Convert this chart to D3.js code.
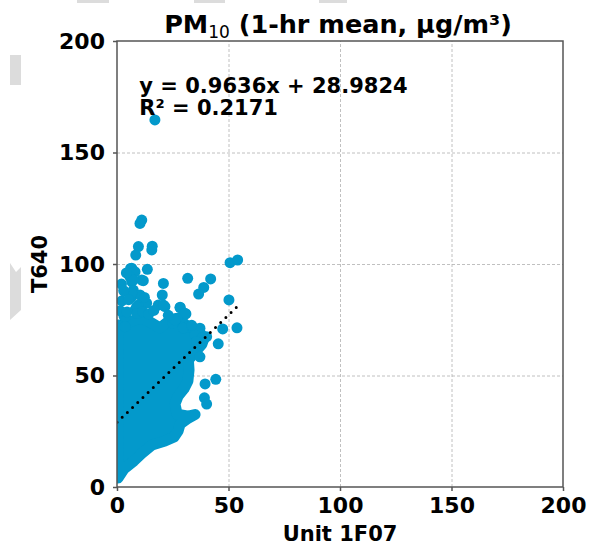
<!DOCTYPE html>
<html>
<head>
<meta charset="utf-8">
<script src="https://cdn.jsdelivr.net/npm/d3@7"></script>
<style>
  body { margin: 0; background: #fff; }
  text { font-family: "DejaVu Sans", sans-serif; font-weight: bold; fill: #000; }
</style>
</head>
<body>
<div id="chart"></div>
<script>
  var xTicks = [0, 50, 100, 150, 200],
    yTicks = [0, 50, 100, 150, 200],
    xDomain = [0, 200],
    yDomain = [0, 200];

  // outline of the overplotted core (centres of the outermost points)
  var coreX = [0.45, 3.1, 7.6, 10.8, 15.7, 21.5, 25.6, 27.4, 28.3, 31.4, 35.0, 32.0, 27.0, 26.0, 27.4, 30.0, 31.8, 32.3, 32.0, 35.0, 38.1, 39.0, 36.3, 30.9, 27.4, 23.8, 19.3, 14.8, 10.3, 5.8, 2.2, 0.45],
    coreY = [4.0, 8.1, 11.7, 14.8, 18.8, 20.6, 22.4, 25.1, 28.3, 30.5, 32.5, 31.8, 32.6, 37.2, 40.8, 44.0, 47.5, 52.5, 57.0, 60.5, 64.1, 66.8, 70.4, 72.6, 75.8, 74.9, 71.3, 74.0, 75.8, 74.0, 72.6, 72.6];

  // single points standing out of the core
  var pointX = [17.0, 11.1, 10.3, 15.8, 15.6, 9.6, 8.4, 50.7, 54.1, 31.7, 42.0, 38.9, 36.6, 50.2, 53.8, 47.4, 37.2, 20.8, 20.3, 13.6, 6.1, 11.8, 28.3, 30.9, 3.1, 2.8, 21.5, 45.4, 44.3, 39.5, 39.2, 40.2, 37.2, 37.2, 6.6, 8.1, 5.8, 6.6, 11.1, 7.3, 6.6, 10.3, 13.3, 9.6, 8.1, 18.5, 28.3, 30.5, 26.8, 25.2, 31.3, 35.0, 38.7, 40.2, 38.0, 35.7, 29.7, 26.0, 3.6,
      7.3, 6.6, 8.8, 3.6, 20.8, 1.5, 2.2, 3.0, 4.5, 5.2, 9.0, 11.5, 14.2, 16.5, 12.3, 23.0, 33.5, 2.0, 4.2],
    pointY = [164.6, 119.7, 118.2, 108.0, 106.3, 107.8, 104.0, 100.6, 101.8, 93.6, 93.3, 89.5, 86.5, 83.9, 71.4, 70.9, 71.2, 91.3, 86.1, 97.6, 98.0, 92.5, 80.4, 77.6, 76.7, 72.6, 80.9, 64.2, 48.3, 46.2, 40.0, 37.2, 63.4, 58.4, 98.1, 96.5, 94.3, 92.1, 92.8, 88.3, 85.3, 86.1, 82.4, 81.6, 79.4, 81.6, 80.6, 77.9, 75.6, 73.4, 71.9, 68.2, 65.9, 67.4, 66.7, 65.2, 71.2, 74.9, 76.4,
      92.8, 86.9, 80.9, 71.9, 81.6, 79.0, 83.5, 88.0, 78.5, 84.0, 77.8, 78.6, 77.5, 79.2, 85.0, 77.0, 72.5, 91.0, 96.0];

  var fitSlope = 0.9636,
    fitIntercept = 28.9824,
    fitRange = [0, 54.1],
    fitText = ['y = 0.9636x + 28.9824', 'R\u00b2 = 0.2171'];

  var width = 589,
    height = 545,
    padL = 117, padR = 563, padT = 41, padB = 487,
    dotR = 5.5,
    dotColor = '#0399cb';

  var x = d3.scaleLinear().domain(xDomain).range([padL, padR]);
  var y = d3.scaleLinear().domain(yDomain).range([padB, padT]);

  var svg = d3.select('#chart')
    .append('svg')
    .attr('width', width)
    .attr('height', height);

  // grey bits at the page edges
  svg.selectAll('rect.edge')
    .data([[77, 0, 32, 3], [194, 0, 31, 3], [319, 0, 28, 3], [10, 55, 11, 30]])
    .enter().append('rect')
    .attr('class', 'edge')
    .attr('x', function(d){ return d[0]; })
    .attr('y', function(d){ return d[1]; })
    .attr('width', function(d){ return d[2]; })
    .attr('height', function(d){ return d[3]; })
    .style('fill', '#dcdcdc');
  svg.append('path')
    .attr('d', 'M 10 263 L 16 272 L 21 267 L 21 310 L 10 320 Z')
    .style('fill', '#dcdcdc');

  svg.append('clipPath')
    .attr('id', 'plotArea')
    .append('rect')
    .attr('x', padL)
    .attr('y', padT)
    .attr('width', padR - padL)
    .attr('height', padB - padT);

  // grid
  svg.append('g')
    .attr('transform', 'translate(0,' + padB + ')')
    .call(d3.axisBottom(x).tickValues(xTicks.slice(1, -1)).tickSize(-(padB - padT)).tickFormat(''))
    .call(function(g){ g.select('.domain').remove(); })
    .selectAll('line')
    .attr('stroke', '#b0b0b0')
    .attr('stroke-width', 0.8)
    .attr('stroke-dasharray', '3,2');

  svg.append('g')
    .attr('transform', 'translate(' + padL + ',0)')
    .call(d3.axisLeft(y).tickValues(yTicks.slice(1, -1)).tickSize(-(padR - padL)).tickFormat(''))
    .call(function(g){ g.select('.domain').remove(); })
    .selectAll('line')
    .attr('stroke', '#b0b0b0')
    .attr('stroke-width', 0.8)
    .attr('stroke-dasharray', '3,2');

  var plot = svg.append('g').attr('clip-path', 'url(#plotArea)');

  var corePts = coreX.map(function(v, i){ return [v, coreY[i]]; });
  plot.append('path')
    .datum(corePts)
    .attr('d', d3.line().x(function(d){ return x(d[0]); }).y(function(d){ return y(d[1]); }).curve(d3.curveLinearClosed))
    .style('fill', dotColor)
    .style('stroke', dotColor)
    .style('stroke-width', dotR * 2)
    .style('stroke-linejoin', 'round');

  plot.selectAll('circle')
    .data(pointX.map(function(v, i){ return [v, pointY[i]]; }))
    .enter().append('circle')
    .attr('cx', function(d){ return x(d[0]); })
    .attr('cy', function(d){ return y(d[1]); })
    .attr('r', dotR)
    .style('fill', dotColor);

  // trend line
  plot.append('path')
    .datum(fitRange.map(function(v){ return [v, fitSlope * v + fitIntercept]; }))
    .attr('d', d3.line().x(function(d){ return x(d[0]); }).y(function(d){ return y(d[1]); }))
    .style('fill', 'none')
    .style('stroke', '#000')
    .style('stroke-width', 3)
    .style('stroke-linecap', 'round')
    .style('stroke-dasharray', '0,7.2');

  // axes
  var xAxis = svg.append('g')
    .attr('transform', 'translate(0,' + padB + ')')
    .call(d3.axisBottom(x).tickValues(xTicks).tickSize(4).tickPadding(6));
  var yAxis = svg.append('g')
    .attr('transform', 'translate(' + padL + ',0)')
    .call(d3.axisLeft(y).tickValues(yTicks).tickSize(4).tickPadding(8));

  [xAxis, yAxis].forEach(function(a){
    a.select('.domain').remove();
    a.selectAll('line').attr('stroke', '#555').attr('stroke-width', 1.5);
    a.selectAll('text')
      .style('font-family', '"DejaVu Sans", sans-serif')
      .style('font-weight', 'bold')
      .style('font-size', '22px')
      .attr('fill', '#000');
  });

  svg.append('rect')
    .attr('x', padL)
    .attr('y', padT)
    .attr('width', padR - padL)
    .attr('height', padB - padT)
    .style('fill', 'none')
    .style('stroke', '#555')
    .style('stroke-width', 1.5);

  // labels
  svg.append('text')
    .attr('x', (padL + padR) / 2)
    .attr('y', 541)
    .attr('text-anchor', 'middle')
    .style('font-size', '21px')
    .text('Unit 1F07');

  svg.append('text')
    .attr('transform', 'translate(47,264) rotate(-90)')
    .attr('text-anchor', 'middle')
    .style('font-size', '21px')
    .text('T640');

  var title = svg.append('text')
    .attr('x', 338)
    .attr('y', 33)
    .attr('text-anchor', 'middle')
    .style('font-size', '25.5px');
  title.append('tspan').text('PM');
  title.append('tspan').attr('dy', 5).style('font-size', '17px').style('font-weight', 'normal').text('10');
  title.append('tspan').attr('dy', -5).text(' (1-hr mean, \u00b5g/m\u00b3)');

  svg.selectAll('text.fit')
    .data(fitText)
    .enter().append('text')
    .attr('class', 'fit')
    .attr('x', x(10))
    .attr('y', function(d, i){ return 92.5 + i * 22.5; })
    .style('font-size', '21px')
    .text(function(d){ return d; });
</script>
</body>
</html>
